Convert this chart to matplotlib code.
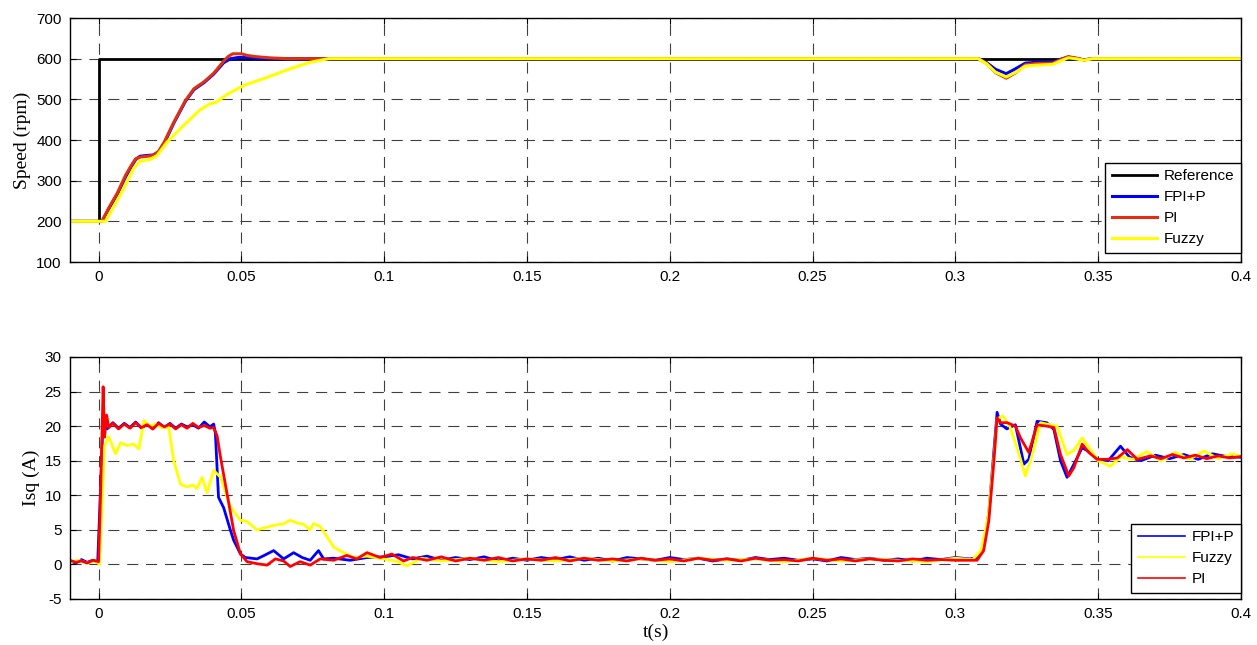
import matplotlib
matplotlib.use("Agg")
import matplotlib.pyplot as plt

plt.rcParams["axes.unicode_minus"] = False

# ---------------- data: speed (rpm) ----------------
ref_t = [-0.01, 0.0, 0.0, 0.4]
ref_v = [200, 200, 600, 600]

fpi_t = [-0.01, 0.0012, 0.0035, 0.0066, 0.0095, 0.0115, 0.013, 0.0145, 0.017, 0.019, 0.021, 0.023,
         0.0263, 0.0304, 0.0334, 0.0369, 0.0403, 0.0438, 0.0462, 0.049, 0.052, 0.056, 0.062, 0.07,
         0.308, 0.311, 0.314, 0.3178, 0.321, 0.3245, 0.328, 0.334, 0.337, 0.3395, 0.342, 0.345,
         0.348, 0.352, 0.36, 0.4]
fpi_v = [200, 200, 230, 267, 310, 335, 352, 360, 362, 363, 370, 392,
         441, 495, 524, 541, 562, 590, 600, 603, 603, 601, 600, 600,
         600, 590, 574, 563, 575, 589, 591, 592, 599, 604, 601, 597,
         600, 600, 600, 600]

pi_t = [-0.01, 0.0012, 0.0035, 0.0066, 0.0095, 0.0115, 0.013, 0.0145, 0.017, 0.019, 0.021, 0.023,
        0.0263, 0.0304, 0.0334, 0.0369, 0.0403, 0.0438, 0.0455, 0.047, 0.05, 0.052, 0.055, 0.06,
        0.066, 0.072, 0.308, 0.311, 0.314, 0.3178, 0.321, 0.3245, 0.328, 0.334, 0.337, 0.3395,
        0.342, 0.345, 0.348, 0.36, 0.4]
pi_v = [200, 200, 232, 270, 314, 338, 354, 358, 360, 362, 372, 395,
        443, 497, 526, 543, 564, 594, 606, 612, 612, 608, 605, 602,
        600, 600, 600, 588, 566, 552, 565, 585, 588, 589, 598, 605,
        602, 597, 600, 600, 600]

fuzzy_t = [-0.01, 0.0024, 0.005, 0.008, 0.0123, 0.0145, 0.018, 0.0205, 0.024, 0.0298, 0.0355,
           0.039, 0.041, 0.045, 0.0508, 0.059, 0.067, 0.074, 0.0806, 0.308, 0.311, 0.314, 0.3178,
           0.321, 0.3245, 0.328, 0.334, 0.337, 0.3395, 0.342, 0.345, 0.348, 0.4]
fuzzy_v = [200, 200, 232, 270, 330, 348, 352, 362, 395, 436, 474,
           489, 492, 512, 534, 554, 575, 591, 600, 600, 587, 567, 555,
           566, 582, 584, 586, 595, 602, 600, 596, 600, 600]

# ---------------- data: Isq (A) ----------------
i_fpi_t = [-0.01, -0.008, -0.006, -0.004, -0.002, -0.0003, 0.0008, 0.0015, 0.003, 0.005, 0.007,
           0.009, 0.011, 0.013, 0.015, 0.017, 0.019, 0.021, 0.023, 0.025, 0.027, 0.029, 0.031,
           0.033, 0.035, 0.037, 0.039, 0.0403, 0.0409, 0.042, 0.0438, 0.0462, 0.0473, 0.0497,
           0.0514, 0.0555, 0.058, 0.0613, 0.0648, 0.0683, 0.0713, 0.0741, 0.077, 0.0788, 0.0823,
           0.0881, 0.094, 0.1, 0.105, 0.11, 0.115, 0.12, 0.125, 0.13, 0.135, 0.14, 0.145, 0.15,
           0.155, 0.16, 0.165, 0.17, 0.175, 0.18, 0.185, 0.19, 0.195, 0.2, 0.205, 0.21, 0.215,
           0.22, 0.225, 0.23, 0.235, 0.24, 0.245, 0.25, 0.255, 0.26, 0.265, 0.27, 0.275, 0.28,
           0.285, 0.29, 0.295, 0.3, 0.305, 0.308, 0.3099, 0.3117, 0.3134, 0.3146, 0.3158, 0.318,
           0.321, 0.324, 0.3257, 0.3286, 0.332, 0.3345, 0.3368, 0.3391, 0.3415, 0.3444, 0.3467,
           0.35, 0.3535, 0.3578, 0.361, 0.365, 0.37, 0.375, 0.38, 0.385, 0.39, 0.395, 0.4]
i_fpi_v = [0.5, 0.2, 0.7, 0.3, 0.6, 0.4, 12, 20.3, 19.6, 20.5, 19.7,
           20.4, 19.8, 20.6, 19.7, 20.3, 19.6, 20.5, 19.8, 20.4, 19.7, 20.3, 19.9,
           20.2, 19.7, 20.6, 19.9, 20.3, 19.0, 9.7, 8.2, 4.9, 3.5, 1.5,
           1.0, 0.8, 1.3, 2.0, 0.8, 1.7, 1.0, 0.6, 2.0, 0.8, 0.9,
           0.6, 1.0, 1.1, 1.4, 0.8, 1.2, 0.6, 1.0, 0.7, 1.1, 0.5, 0.9, 0.6,
           1.0, 0.7, 1.1, 0.6, 0.9, 0.5, 1.0, 0.8, 0.6, 1.0, 0.7, 0.9, 0.5,
           0.8, 0.6, 1.0, 0.7, 0.9, 0.6, 0.8, 0.5, 1.0, 0.7, 0.9, 0.6, 0.8,
           0.5, 0.9, 0.7, 1.0, 0.8, 1.0, 2.5, 7.5, 16.0, 22.0, 20.3, 19.6,
           20.2, 14.5, 15.2, 20.7, 20.5, 19.5, 15.0, 12.6, 14.5, 16.9, 16.3,
           15.2, 15.0, 17.1, 15.5, 15.0, 15.8, 15.3, 15.9, 15.2, 16.0, 15.6, 15.5]

i_fuzzy_t = [-0.01, -0.007, -0.004, -0.001, 0.0003, 0.0012, 0.002, 0.0035, 0.006, 0.0077, 0.01,
             0.0124, 0.0141, 0.0159, 0.018, 0.02, 0.022, 0.0246, 0.0263, 0.0287, 0.031, 0.033,
             0.0345, 0.0362, 0.038, 0.0403, 0.0427, 0.0462, 0.0497, 0.052, 0.0555, 0.059, 0.062,
             0.0648, 0.0671, 0.0695, 0.0718, 0.0741, 0.0753, 0.0776, 0.08, 0.0823, 0.0858,
             0.0893, 0.094, 0.0998, 0.104, 0.108, 0.113, 0.12, 0.13, 0.14, 0.15, 0.16, 0.17,
             0.18, 0.19, 0.2, 0.21, 0.22, 0.23, 0.24, 0.25, 0.26, 0.27, 0.28, 0.29, 0.3,
             0.306, 0.309, 0.3115, 0.3134, 0.3146, 0.3165, 0.319, 0.3215, 0.3245, 0.327, 0.3298,
             0.332, 0.3356, 0.3391, 0.3415, 0.3444, 0.3473, 0.35, 0.3543, 0.358, 0.362, 0.367,
             0.372, 0.377, 0.382, 0.387, 0.392, 0.397, 0.4]
i_fuzzy_v = [0.3, 0.6, 0.2, 0.5, 0.0, 8.0, 17.0, 18.5, 16.0, 17.6, 17.2,
             17.4, 16.7, 20.8, 20.0, 20.3, 19.8, 19.8, 15.0, 11.6, 11.2, 11.5,
             11.0, 12.6, 10.4, 13.6, 12.6, 8.3, 6.4, 6.2, 5.0, 5.4, 5.7,
             5.9, 6.4, 6.0, 5.8, 5.0, 5.9, 5.5, 4.0, 2.5, 1.7,
             1.0, 1.2, 0.8, 0.5, -0.2, 0.9, 0.5, 0.9, 0.4, 0.8, 0.5, 0.9,
             0.5, 0.8, 0.4, 0.9, 0.6, 0.8, 0.4, 0.9, 0.5, 0.8, 0.6, 0.4, 0.9,
             0.7, 2.0, 7.0, 15.0, 21.0, 21.5, 20.0, 17.0, 12.8, 16.0, 20.5,
             20.3, 20.0, 15.9, 16.5, 18.3, 16.6, 15.0, 14.2, 15.6, 15.2, 16.3,
             15.0, 16.2, 15.2, 16.4, 15.3, 16.0, 15.6]

i_pi_t = [-0.01, -0.008, -0.006, -0.004, -0.002, 0.0, 0.0007, 0.0016, 0.0021, 0.0028, 0.0036,
          0.005, 0.007, 0.009, 0.011, 0.013, 0.015, 0.017, 0.019, 0.021, 0.023, 0.025, 0.027,
          0.029, 0.031, 0.033, 0.035, 0.037, 0.039, 0.0403, 0.0415, 0.0427, 0.045, 0.0473,
          0.0497, 0.052, 0.0555, 0.059, 0.0619, 0.0648, 0.0671, 0.0706, 0.0741, 0.0776, 0.0823,
          0.0869, 0.0904, 0.094, 0.0986, 0.1027, 0.1068, 0.11, 0.115, 0.12, 0.125, 0.13, 0.135,
          0.14, 0.145, 0.15, 0.155, 0.16, 0.165, 0.17, 0.175, 0.18, 0.185, 0.19, 0.195, 0.2,
          0.205, 0.21, 0.215, 0.22, 0.225, 0.23, 0.235, 0.24, 0.245, 0.25, 0.255, 0.26, 0.265,
          0.27, 0.275, 0.28, 0.285, 0.29, 0.295, 0.3, 0.3076, 0.3099, 0.3117, 0.3134, 0.3146,
          0.3158, 0.3181, 0.321, 0.3228, 0.3257, 0.3286, 0.3321, 0.3345, 0.3368, 0.3397,
          0.3415, 0.3444, 0.3467, 0.3496, 0.3532, 0.3567, 0.3602, 0.3637, 0.3683, 0.372,
          0.376, 0.38, 0.384, 0.388, 0.392, 0.396, 0.4]
i_pi_v = [0.6, 0.3, 0.5, 0.2, 0.6, 0.4, 10.0, 25.7, 18.4, 21.6, 19.8,
          20.4, 19.6, 20.3, 19.7, 20.5, 19.8, 20.2, 19.6, 20.4, 19.9, 20.3, 19.6,
          20.2, 19.7, 20.4, 19.8, 20.1, 19.7, 19.8, 18.6, 15.5, 10.2, 4.9,
          1.5, 0.4, 0.1, -0.1, 0.8, 0.5, -0.3, 0.4, -0.1, 0.8, 0.6,
          1.3, 0.8, 1.7, 1.0, 1.5, 0.5, 1.0, 0.6, 1.1, 0.5, 0.9, 0.6,
          1.0, 0.5, 0.8, 0.6, 1.0, 0.5, 0.9, 0.6, 0.8, 0.5, 0.9, 0.6, 0.8,
          0.5, 0.9, 0.6, 0.8, 0.5, 0.9, 0.6, 0.7, 0.5, 0.9, 0.6, 0.8, 0.5,
          0.8, 0.6, 0.5, 0.8, 0.6, 0.7, 0.6, 0.6, 2.0, 6.3, 14.5, 21.2,
          20.5, 20.5, 20.0, 18.3, 16.2, 20.2, 20.0, 19.8, 15.9, 12.8,
          14.0, 17.4, 16.2, 15.2, 15.2, 15.4, 16.6, 15.2, 15.7, 15.3,
          15.9, 15.4, 15.8, 15.3, 15.7, 15.4, 15.6]

xticks = [0, 0.05, 0.1, 0.15, 0.2, 0.25, 0.3, 0.35, 0.4]
xtick_labels = ["0", "0.05", "0.1", "0.15", "0.2", "0.25", "0.3", "0.35", "0.4"]
speed_ticks = [100, 200, 300, 400, 500, 600, 700]
isq_ticks = [-5, 0, 5, 10, 15, 20, 25, 30]

# ---------------- figure ----------------
W, H = 1257, 645
fig = plt.figure(figsize=(W / 100, H / 100), dpi=100)
sans = ["Liberation Sans", "DejaVu Sans"]
serif = ["Liberation Serif", "DejaVu Serif"]

def px_axes(x0, y0, x1, y1):
    return fig.add_axes([x0 / W, 1 - y1 / H, (x1 - x0) / W, (y1 - y0) / H])

ax1 = px_axes(70, 18, 1241, 262)
ax2 = px_axes(70, 357, 1241, 599)

def style(ax, yticks):
    ax.set_xlim(-0.01, 0.4)
    ax.set_xticks(xticks)
    ax.set_xticklabels(xtick_labels)
    ax.set_yticks(yticks)
    ax.set_ylim(yticks[0], yticks[-1])
    ax.grid(True, color="#404040", linestyle=(0, (10, 7)), linewidth=0.8)
    ax.tick_params(direction="in", top=True, right=True, length=4, width=0.8,
                   labelsize=11, pad=6)
    for lab in ax.get_xticklabels() + ax.get_yticklabels():
        lab.set_family(sans)
    for s in ax.spines.values():
        s.set_linewidth(1.0)

style(ax1, speed_ticks)
ax1.plot(ref_t, ref_v, color="black", lw=2.0, label="Reference")
ax1.plot(fpi_t, fpi_v, color="#0000ff", lw=2.2, label="FPI+P")
ax1.plot(pi_t, pi_v, color="#e0300f", lw=2.2, label="PI")
ax1.plot(fuzzy_t, fuzzy_v, color="#ffff00", lw=2.2, label="Fuzzy")
ax1.set_ylabel("Speed (rpm)", family=serif, fontsize=14)
ax1.yaxis.set_label_coords(-0.0333, 0.5)
leg1 = ax1.legend(loc="lower right", bbox_to_anchor=(1.0, 9 / 244), borderaxespad=0,
                  prop={"family": sans, "size": 11}, frameon=True, fancybox=False,
                  handlelength=3.0, handletextpad=0.4, labelspacing=0.45, borderpad=0.45)
leg1.get_frame().set_edgecolor("black")
leg1.get_frame().set_linewidth(1.0)
leg1.get_frame().set_alpha(1)

style(ax2, isq_ticks)
ax2.plot(i_fpi_t, i_fpi_v, color="#0000ff", lw=2.0, label="FPI+P")
ax2.plot(i_fuzzy_t, i_fuzzy_v, color="#ffff00", lw=2.0, label="Fuzzy")
ax2.plot(i_pi_t, i_pi_v, color="#ff0000", lw=2.0, label="PI")
ax2.set_ylabel("Isq (A)", family=serif, fontsize=14)
ax2.yaxis.set_label_coords(-0.0256, 0.5)
ax2.set_xlabel("t(s)", family=serif, fontsize=14, labelpad=2)
leg2 = ax2.legend(loc="lower right", bbox_to_anchor=(1.0, 6 / 242), borderaxespad=0,
                  prop={"family": sans, "size": 11}, frameon=True, fancybox=False,
                  handlelength=3.1, handletextpad=0.4, labelspacing=0.45, borderpad=0.45)
for h in leg2.get_lines():
    h.set_linewidth(1.2)
leg2.get_frame().set_edgecolor("black")
leg2.get_frame().set_linewidth(1.0)
leg2.get_frame().set_alpha(1)

fig.savefig("out.png", dpi=100)
